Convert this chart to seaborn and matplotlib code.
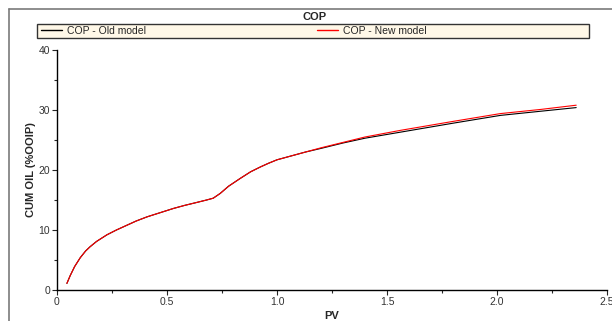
import pandas as pd
import matplotlib.pyplot as plt
import seaborn as sns
from matplotlib.lines import Line2D
from matplotlib.patches import Rectangle
from matplotlib.ticker import MultipleLocator

# --- data ---
pv = [0.045, 0.06, 0.08, 0.106, 0.13, 0.15, 0.18, 0.227, 0.27, 0.318, 0.36,
      0.41, 0.47, 0.53, 0.58, 0.636, 0.68, 0.71, 0.742, 0.78, 0.833, 0.88,
      0.924, 0.96, 1.0, 1.06, 1.13, 1.2, 1.3, 1.4, 1.56, 1.8, 2.015, 2.2, 2.36]
cop_old = [1.1, 2.4, 3.9, 5.4, 6.5, 7.2, 8.1, 9.2, 10.0, 10.8, 11.5,
           12.2, 12.9, 13.6, 14.1, 14.6, 15.0, 15.3, 16.1, 17.3, 18.6, 19.7,
           20.5, 21.1, 21.7, 22.3, 23.0, 23.6, 24.5, 25.3, 26.3, 27.8, 29.1, 29.8, 30.4]
cop_new = [1.1, 2.4, 3.9, 5.4, 6.5, 7.2, 8.1, 9.2, 10.0, 10.8, 11.5,
           12.2, 12.9, 13.6, 14.1, 14.6, 15.0, 15.3, 16.1, 17.3, 18.6, 19.7,
           20.5, 21.1, 21.7, 22.3, 23.0, 23.7, 24.6, 25.5, 26.6, 28.1, 29.4, 30.1, 30.8]
series_names = ['COP - Old model', 'COP - New model']
x_ticks = [0, 0.5, 1.0, 1.5, 2.0, 2.5]
x_tick_labels = ['0', '0.5', '1.0', '1.5', '2.0', '2.5']
y_ticks = [0, 10, 20, 30, 40]

df = pd.concat([
    pd.DataFrame({'PV': pv, 'CUM': cop_old, 'series': series_names[0]}),
    pd.DataFrame({'PV': pv, 'CUM': cop_new, 'series': series_names[1]}),
])

sns.set_style('ticks')
plt.rcParams['font.family'] = ['Liberation Sans', 'DejaVu Sans']

fig = plt.figure(figsize=(6.12, 3.21), dpi=100)
W, H = 612.0, 321.0
ax = fig.add_axes([57 / W, 1 - 290 / H, (607 - 57) / W, (290 - 50) / H])

sns.lineplot(data=df, x='PV', y='CUM', hue='series',
             palette={series_names[0]: 'black', series_names[1]: 'red'},
             linewidth=0.8, ax=ax, legend=False)

ax.set_xlim(0, 2.5)
ax.set_ylim(0, 40)
ax.set_xticks(x_ticks)
ax.set_xticklabels(x_tick_labels)
ax.set_yticks(y_ticks)
ax.xaxis.set_minor_locator(MultipleLocator(0.25))
ax.yaxis.set_minor_locator(MultipleLocator(5))
ax.tick_params(which='major', length=3.5, width=0.8, labelsize=7.5,
               labelcolor='#333333', pad=1.5)
ax.tick_params(which='minor', length=2, width=0.8)
for s in ['top', 'right']:
    ax.spines[s].set_visible(False)
for s in ['left', 'bottom']:
    ax.spines[s].set_linewidth(1.0)
    ax.spines[s].set_color('black')
ax.set_xlabel('PV', fontsize=8, fontweight='bold', labelpad=3)
ax.set_ylabel('CUM OIL (%OOIP)', fontsize=8, fontweight='bold', labelpad=2)

# outer frame (left and top edges visible)
fig.add_artist(Line2D([8.5 / W, 8.5 / W], [0, 1 - 9 / H], transform=fig.transFigure,
                      color='#7a7a7a', lw=1.2))
fig.add_artist(Line2D([8.5 / W, 1], [1 - 9 / H, 1 - 9 / H], transform=fig.transFigure,
                      color='#7a7a7a', lw=1.2))

fig.text(315 / W, 1 - 17 / H, 'COP', ha='center', va='center',
         fontsize=8, fontweight='bold')

# legend strip: one box, two entries placed along it
fig.add_artist(Rectangle((37 / W, 1 - 38 / H), (589 - 37) / W, 14 / H,
                         transform=fig.transFigure, facecolor='#fff8e8',
                         edgecolor='#333333', lw=1.0, zorder=1))
for name, color, x0 in [(series_names[0], 'black', 39), (series_names[1], 'red', 315)]:
    leg = fig.legend([Line2D([], [], color=color, lw=1)], [name],
                     loc='center left', bbox_to_anchor=(x0 / W, 1 - 31 / H),
                     bbox_transform=fig.transFigure, fontsize=7.5, frameon=False,
                     borderaxespad=0, borderpad=0.2, handlelength=2.0,
                     handletextpad=0.5)
    leg.set_zorder(2)

fig.savefig('out.png', dpi=100)
